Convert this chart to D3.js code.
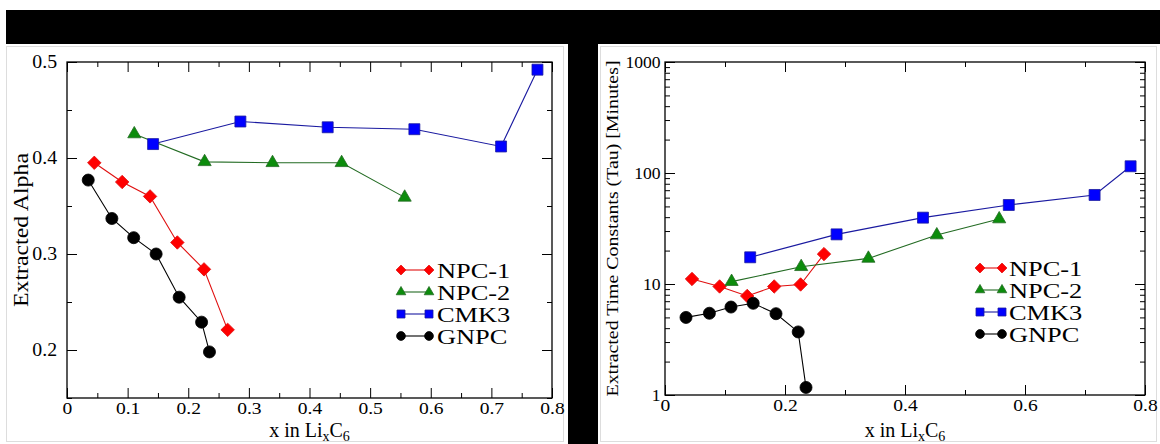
<!DOCTYPE html>
<html>
<head>
<meta charset="utf-8">
<script src="https://cdn.jsdelivr.net/npm/d3@7"></script>
<style>
body { margin: 0; background: #fff; }
svg text { font-family: "Liberation Serif", "Times New Roman", Times, serif; fill: #000; }
</style>
</head>
<body>
<svg width="1160" height="444"></svg>
<script>
// series names, in legend order
var series = ["NPC-1", "NPC-2", "CMK3", "GNPC"];

// x in LixC6 for each series
var xNPC1 = [0.045, 0.091, 0.137, 0.182, 0.226, 0.265];
var xNPC2 = [0.111, 0.227, 0.339, 0.453, 0.557];
var xCMK3 = [0.142, 0.286, 0.430, 0.573, 0.716, 0.776];
var xGNPC = [0.035, 0.074, 0.110, 0.147, 0.185, 0.222, 0.235];

// extracted alpha (left plot)
var alphaNPC1 = [0.395, 0.375, 0.360, 0.312, 0.284, 0.221];
var alphaNPC2 = [0.425, 0.396, 0.395, 0.395, 0.359];
var alphaCMK3 = [0.4145, 0.438, 0.432, 0.430, 0.412, 0.492];
var alphaGNPC = [0.377, 0.337, 0.317, 0.300, 0.255, 0.229, 0.198];

// extracted tau in minutes (right plot)
var tauNPC1 = [11.1, 9.5, 7.8, 9.5, 9.9, 18.6];
var tauNPC2 = [10.5, 14.3, 17.0, 27.6, 38.5];
var tauCMK3 = [17.4, 28.0, 39.6, 51.5, 63.4, 115];
var tauGNPC = [5.0, 5.45, 6.2, 6.7, 5.4, 3.7, 1.17];

// tick values
var xTicksLeft = [0, 0.1, 0.2, 0.3, 0.4, 0.5, 0.6, 0.7, 0.8];
var xTicksRight = [0, 0.2, 0.4, 0.6, 0.8];
var alphaTicks = [0.2, 0.3, 0.4, 0.5];
var tauTicks = [1, 10, 100, 1000];

var xs = [xNPC1, xNPC2, xCMK3, xGNPC];
var alphas = [alphaNPC1, alphaNPC2, alphaCMK3, alphaGNPC];
var taus = [tauNPC1, tauNPC2, tauCMK3, tauGNPC];

var colors = ["#ff0000", "#0c8c0c", "#0000ff", "#000000"];
var lineColors = ["#e01010", "#236b23", "#1a1aa0", "#000000"];
var serif = '"Liberation Serif", "Times New Roman", Times, serif';

var svg = d3.select("svg");

// page decoration: black bands
svg.append("rect").attr("width", 1160).attr("height", 444).attr("fill", "#fff");
svg.append("rect").attr("x", 6).attr("y", 10).attr("width", 1154).attr("height", 34).attr("fill", "#000");
svg.append("rect").attr("x", 568).attr("y", 44).attr("width", 30).attr("height", 400).attr("fill", "#000");
svg.append("rect").attr("x", 6.5).attr("y", 46.5).attr("width", 557).attr("height", 395)
  .attr("fill", "none").attr("stroke", "#ddd");
svg.append("rect").attr("x", 600.5).attr("y", 46.5).attr("width", 556).attr("height", 395)
  .attr("fill", "none").attr("stroke", "#ddd");

function marker(g, i, size) {
  var sym, rot = 0;
  if (i == 0) { sym = d3.symbolSquare; rot = 45; size = size * 0.75; }
  else if (i == 1) { sym = d3.symbolTriangle; size = size * 0.62; }
  else if (i == 2) { sym = d3.symbolSquare; }
  else { sym = d3.symbolCircle; size = size * 0.95; }
  return g.append("path")
    .attr("d", d3.symbol().type(sym).size(size)())
    .attr("fill", colors[i])
    .attr("stroke", lineColors[i])
    .attr("stroke-width", 0.8)
    .attr("data-rot", rot);
}

function place(p, x, y) {
  p.attr("transform", "translate(" + x + "," + y + ") rotate(" + p.attr("data-rot") + ")");
}

function fixText(a, size, sx) {
  a.attr("font-size", null).attr("font-family", null);
  a.selectAll("text").style("font-size", size + "px").style("font-family", serif)
    .attr("transform", "scale(" + sx + ",1)");
  a.select(".domain").remove();
  a.selectAll("line").attr("stroke", "#000");
}

function drawPanel(x, y, yVals, opts) {
  var g = svg.append("g");
  var x0 = x.range()[0], x1 = x.range()[1];
  var yb = y.range()[0], yt = y.range()[1];

  // minor ticks
  g.append("g").attr("transform", "translate(0," + yb + ")")
    .call(d3.axisBottom(x).tickValues(opts.xMinor).tickSize(-5).tickFormat(""))
    .call(function(a) { fixText(a, 1, 1); });
  g.append("g").attr("transform", "translate(0," + yt + ")")
    .call(d3.axisTop(x).tickValues(opts.xMinor).tickSize(-5).tickFormat(""))
    .call(function(a) { fixText(a, 1, 1); });
  g.append("g").attr("transform", "translate(" + x0 + ",0)")
    .call(d3.axisLeft(y).tickValues(opts.yMinor).tickSize(-5).tickFormat(""))
    .call(function(a) { fixText(a, 1, 1); });
  g.append("g").attr("transform", "translate(" + x1 + ",0)")
    .call(d3.axisRight(y).tickValues(opts.yMinor).tickSize(-5).tickFormat(""))
    .call(function(a) { fixText(a, 1, 1); });

  // major ticks
  g.append("g").attr("transform", "translate(0," + yb + ")")
    .call(d3.axisBottom(x).tickValues(opts.xTicks).tickSize(-10).tickPadding(4).tickFormat(opts.xFmt))
    .call(function(a) { fixText(a, 17, 1.15); });
  g.append("g").attr("transform", "translate(0," + yt + ")")
    .call(d3.axisTop(x).tickValues(opts.xTicks).tickSize(-10).tickFormat(""))
    .call(function(a) { fixText(a, 1, 1); });
  g.append("g").attr("transform", "translate(" + x0 + ",0)")
    .call(d3.axisLeft(y).tickValues(opts.yTicks).tickSize(-10).tickPadding(opts.yPad).tickFormat(opts.yFmt))
    .call(function(a) { fixText(a, opts.yFont, 1.1); });
  g.append("g").attr("transform", "translate(" + x1 + ",0)")
    .call(d3.axisRight(y).tickValues(opts.yTicks).tickSize(-10).tickFormat(""))
    .call(function(a) { fixText(a, 1, 1); });

  g.append("rect").attr("x", x0).attr("y", yt).attr("width", x1 - x0).attr("height", yb - yt)
    .attr("fill", "none").attr("stroke", "#000").attr("stroke-width", 1.3);

  // series
  var line = d3.line().x(function(d) { return x(d[0]); }).y(function(d) { return y(d[1]); });
  series.forEach(function(name, i) {
    var pts = xs[i].map(function(v, j) { return [v, yVals[i][j]]; });
    g.append("path").attr("d", line(pts)).attr("fill", "none")
      .attr("stroke", lineColors[i]).attr("stroke-width", 1.1);
    pts.forEach(function(p) {
      place(marker(g, i, 120), x(p[0]), y(p[1]));
    });
  });

  // legend
  series.forEach(function(name, i) {
    var ly = opts.legY + i * 22;
    g.append("line").attr("x1", opts.legX).attr("x2", opts.legX + opts.legW)
      .attr("y1", ly).attr("y2", ly).attr("stroke", lineColors[i]).attr("stroke-width", 1.1);
    place(marker(g, i, 64), opts.legX, ly);
    place(marker(g, i, 64), opts.legX + opts.legW, ly);
    g.append("text").attr("transform", "translate(" + opts.legTx + "," + (ly + 8) + ") scale(1.2,1)")
      .style("font-size", "22px").style("font-family", serif).text(name);
  });

  // x label
  var xl = g.append("text").attr("x", (x0 + x1) / 2).attr("y", 437)
    .attr("text-anchor", "middle").style("font-size", "20px").style("font-family", serif);
  xl.append("tspan").text("x in Li");
  xl.append("tspan").attr("dy", 4).style("font-size", "14px").text("x");
  xl.append("tspan").attr("dy", -4).text("C");
  xl.append("tspan").attr("dy", 4).style("font-size", "14px").text("6");

  // y label
  g.append("text")
    .attr("transform", "translate(" + opts.yLabX + "," + ((yt + yb) / 2) + ") rotate(-90)")
    .attr("text-anchor", "middle")
    .attr("textLength", opts.yLabLen).attr("lengthAdjust", "spacingAndGlyphs")
    .style("font-size", opts.yLabFont + "px").style("font-family", serif).text(opts.yLabel);
}

// left plot: extracted alpha
var xLeft = d3.scaleLinear().domain([0, 0.8]).range([67, 552]);
var yLeft = d3.scaleLinear().domain([0.15, 0.5]).range([398, 62]);
drawPanel(xLeft, yLeft, alphas, {
  xTicks: xTicksLeft,
  xMinor: d3.range(0.05, 0.8, 0.1),
  yTicks: alphaTicks,
  yMinor: [0.15, 0.25, 0.35, 0.45],
  xFmt: function(d) { return d === 0 ? "0" : d3.format(".1f")(d); },
  yFmt: d3.format(".1f"),
  yFont: 18, yPad: 9,
  legX: 401, legW: 28, legY: 270, legTx: 437,
  yLabel: "Extracted Alpha", yLabX: 28, yLabLen: 154, yLabFont: 21
});

// right plot: extracted time constants, log scale
var xRight = d3.scaleLinear().domain([0, 0.8]).range([665, 1145]);
var yRight = d3.scaleLog().domain([1, 1000]).range([395, 62]);
var tauMinor = [];
[1, 10, 100].forEach(function(dec) {
  for (var k = 2; k <= 9; k++) tauMinor.push(dec * k);
});
drawPanel(xRight, yRight, taus, {
  xTicks: xTicksRight,
  xMinor: [0.1, 0.3, 0.5, 0.7],
  yTicks: tauTicks,
  yMinor: tauMinor,
  xFmt: function(d) { return d === 0 ? "0" : d3.format(".1f")(d); },
  yFmt: d3.format("d"),
  yFont: 16, yPad: 4,
  legX: 980, legW: 22, legY: 268, legTx: 1009,
  yLabel: "Extracted Time Constants (Tau) [Minutes]", yLabX: 618, yLabLen: 336, yLabFont: 17
});
</script>
</body>
</html>
